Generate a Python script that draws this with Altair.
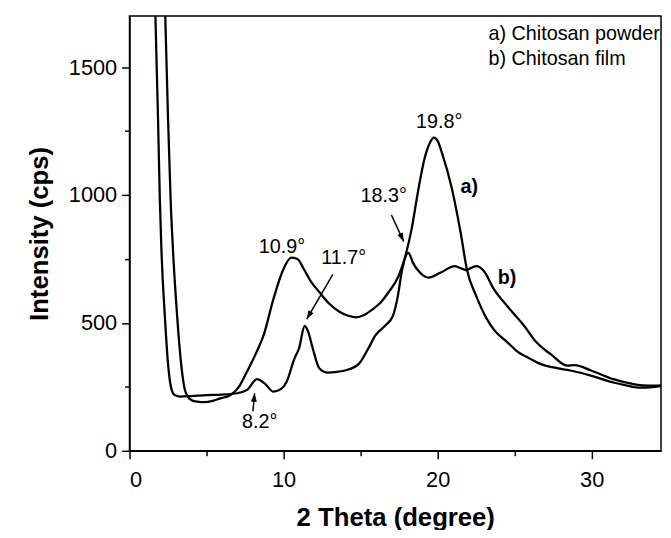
import math
import altair as alt
import pandas as pd

# ---- data ----
x_powder = [2.32, 2.5, 2.67, 2.82, 3.1, 3.35, 3.57, 3.8, 4.0, 4.4, 4.85, 5.4, 5.9, 6.55, 7.1, 7.63,
            8.2, 8.7, 9.34, 9.98, 10.5, 10.9, 11.3, 11.8, 12.33, 12.97, 13.6, 14.2, 14.7, 15.2, 15.75,
            16.3, 16.8, 17.46, 17.9, 18.3, 18.74, 19.17, 19.5, 19.75, 20.0, 20.3, 20.9, 21.5, 21.9,
            22.5, 23.2, 23.7, 24.5, 25.1, 26.0, 26.7, 27.6, 28.7, 30.0, 31.4, 32.3, 33.1, 33.8, 34.6]
y_powder = [1700, 1300, 980, 787, 520, 340, 244, 210, 199, 192, 190, 195, 205, 218, 250, 310,
            380, 451, 593, 709, 755, 750, 712, 660, 620, 575, 545, 528, 522, 530, 552,
            580, 619, 683, 761, 864, 1019, 1148, 1205, 1225, 1212, 1161, 1032, 851, 709,
            606, 515, 470, 426, 392, 360, 339, 325, 313, 293, 267, 255, 247, 248, 254]

x_film = [1.68, 1.85, 1.97, 2.07, 2.3, 2.5, 2.71, 2.93, 3.3, 4.0, 5.0, 6.0, 7.0, 7.63, 8.27, 8.8,
          9.34, 9.8, 10.2, 10.7, 11.0, 11.37, 11.6, 11.9, 12.33, 12.86, 13.5, 14.04, 14.9, 15.5,
          15.96, 16.6, 17.1, 17.4, 17.7, 18.1, 18.4, 18.85, 19.4, 20.2, 21.1, 21.84, 22.5, 23.0,
          23.65, 24.5, 25.6, 26.4, 27.4, 28.4, 28.9, 30.0, 31.4, 32.8, 33.3, 34.0, 34.6]
y_film = [1700, 1300, 980, 787, 520, 340, 244, 218, 212, 214, 218, 220, 225, 238, 280, 262,
          231, 240, 270, 360, 400, 488, 465, 399, 322, 306, 309, 315, 341, 400,
          451, 490, 528, 600, 709, 774, 735, 697, 677, 697, 722, 707, 722, 703,
          632, 567, 490, 425, 375, 333, 335, 313, 280, 260, 256, 255, 256]

peak_labels = ["10.9°", "11.7°", "18.3°", "19.8°", "8.2°"]
peak_label_x = [9.9, 13.9, 16.5, 20.1, 8.45]
peak_label_y = [795, 753, 996, 1286, 112]

curve_tags = ["a)", "b)"]
curve_tag_x = [22.06, 24.5]
curve_tag_y = [1032, 674]

legend_lines = ["a) Chitosan powder", "b) Chitosan film"]
legend_x = [23.3, 23.3]
legend_y = [1628, 1531]

arrow_x1 = [13.2, 17.0, 8.01]
arrow_y1 = [690, 922, 154]
arrow_x2 = [11.5, 17.8, 8.12]
arrow_y2 = [515, 818, 225]

XMAX = 34.5
YMAX = 1700
W, H = 538, 440
FONT = "Liberation Sans"

# ---- tables ----
lines_df = pd.concat([
    pd.DataFrame({"x": x_powder, "y": y_powder, "s": "powder"}),
    pd.DataFrame({"x": x_film, "y": y_film, "s": "film"}),
])
peaks_df = pd.DataFrame({"t": peak_labels, "x": peak_label_x, "y": peak_label_y})
tags_df = pd.DataFrame({"t": curve_tags, "x": curve_tag_x, "y": curve_tag_y})
legend_df = pd.DataFrame({"t": legend_lines, "x": legend_x, "y": legend_y})

sx, sy = W / XMAX, H / YMAX
angles = []
for a, b, c, d in zip(arrow_x1, arrow_y1, arrow_x2, arrow_y2):
    dx = (c - a) * sx
    dy = -(d - b) * sy
    angles.append(math.degrees(math.atan2(dx, -dy)) % 360)
arrows_df = pd.DataFrame({"x": arrow_x1, "y": arrow_y1, "x2": arrow_x2, "y2": arrow_y2, "ang": angles})

xscale = alt.Scale(domain=[0, XMAX], nice=False, zero=False)
yscale = alt.Scale(domain=[0, YMAX], nice=False)

x_axis = alt.Axis(
    values=[0, 5, 10, 15, 20, 25, 30], labelExpr="datum.value % 10 === 0 ? datum.label : ''",
    format="d",
    title="2 Theta (degree)", grid=False, tickSize={"condition": {"test": "datum.value % 10 === 0", "value": 8}, "value": 5},
    labelFontSize=22, labelFont=FONT, labelColor="black", labelPadding=11,
    titleFontSize=26, titleFont=FONT, titleFontWeight="bold", titleColor="black", titlePadding=15,
    domainColor="black", domainWidth=1.5, tickColor="black", tickWidth=1.5,
)
y_axis = alt.Axis(
    values=[0, 250, 500, 750, 1000, 1250, 1500], labelExpr="datum.value % 500 === 0 ? datum.label : ''",
    format="d",
    title="Intensity (cps)", grid=False, tickSize={"condition": {"test": "datum.value % 500 === 0", "value": 8}, "value": 5},
    labelFontSize=22, labelFont=FONT, labelColor="black", labelPadding=5,
    titleFontSize=26, titleFont=FONT, titleFontWeight="bold", titleColor="black", titlePadding=16,
    domainColor="black", domainWidth=1.5, tickColor="black", tickWidth=1.5,
)

curves = alt.Chart(lines_df).mark_line(color="black", strokeWidth=2.3, clip=True, interpolate="monotone").encode(
    x=alt.X("x:Q", scale=xscale, axis=x_axis),
    y=alt.Y("y:Q", scale=yscale, axis=y_axis),
    detail="s:N",
)

peaks = alt.Chart(peaks_df).mark_text(font=FONT, fontSize=20, color="black").encode(
    x=alt.X("x:Q", scale=xscale), y=alt.Y("y:Q", scale=yscale), text="t:N")

tags = alt.Chart(tags_df).mark_text(font=FONT, fontSize=20, fontWeight="bold", color="black").encode(
    x=alt.X("x:Q", scale=xscale), y=alt.Y("y:Q", scale=yscale), text="t:N")

legend = alt.Chart(legend_df).mark_text(font=FONT, fontSize=20, color="black", align="left").encode(
    x=alt.X("x:Q", scale=xscale), y=alt.Y("y:Q", scale=yscale), text="t:N")

arrow_lines = alt.Chart(arrows_df).mark_rule(color="black", strokeWidth=1.5).encode(
    x=alt.X("x:Q", scale=xscale), y=alt.Y("y:Q", scale=yscale), x2="x2:Q", y2="y2:Q")

arrow_heads = alt.Chart(arrows_df).mark_point(
    shape="M0,0 L-0.35,1 L0.35,1 Z", filled=True, color="black", opacity=1, size=300, strokeWidth=0
).encode(
    x=alt.X("x2:Q", scale=xscale), y=alt.Y("y2:Q", scale=yscale), angle=alt.Angle("ang:Q", scale=None))

chart = alt.layer(curves, arrow_lines, arrow_heads, peaks, tags, legend).properties(
    width=W, height=H,
    autosize=alt.AutoSizeParams(type="none"),
    padding={"left": 123, "top": 5, "right": 2, "bottom": 77},
    background="white",
).configure_view(stroke="black", strokeWidth=1.5)

chart.save("out.html", embed_options={"renderer": "svg", "actions": False})
